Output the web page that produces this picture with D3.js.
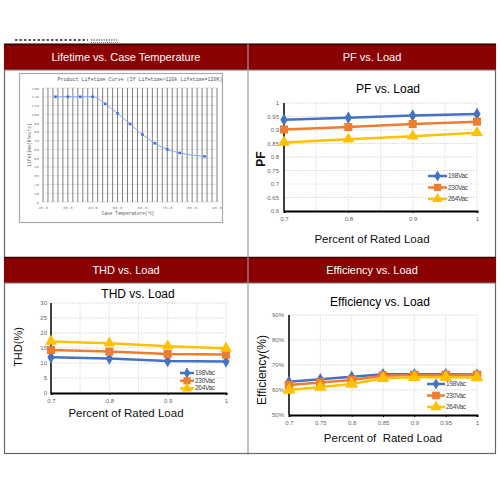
<!DOCTYPE html>
<html>
<head>
<meta charset="utf-8">
<script src="https://cdn.jsdelivr.net/npm/d3@7"></script>
<style>
body { margin: 0; background: #fff; }
text { font-family: "Liberation Sans", Arial, sans-serif; }
</style>
</head>
<body>
<svg id="main_svg" width="500" height="500"></svg>
<script>
// ---- data ----
const headers = ["Lifetime vs. Case Temperature", "PF vs. Load", "THD vs. Load", "Efficiency vs. Load"]
const seriesNames = ["198Vac", "230Vac", "264Vac"]
const seriesColors = ["#4472C4", "#ED7D31", "#FFC000"]

const lifeTemps = [25, 30, 35, 40, 45, 50, 55, 60, 65, 70, 75, 85]
const lifeHours = [120, 120, 120, 120, 112, 101, 89, 77, 67, 60, 56, 52]
const lifeXTicks = [20, 30, 40, 50, 60, 70, 80, 90]
const lifeYTicks = [0, 10, 20, 30, 40, 50, 60, 70, 80, 90, 100, 110, 120, 130]

const loads = [0.7, 0.8, 0.9, 1.0]
const loadTicks = [0.7, 0.8, 0.9, 1]
const pf198 = [0.938, 0.945, 0.954, 0.959]
const pf230 = [0.902, 0.911, 0.922, 0.931]
const pf264 = [0.854, 0.866, 0.877, 0.890]
const pfTicks = [0.6, 0.65, 0.7, 0.75, 0.8, 0.85, 0.9, 0.95, 1]

const thd198 = [11.9, 11.5, 10.7, 10.5]
const thd230 = [14.3, 13.8, 13.0, 12.8]
const thd264 = [17.2, 16.6, 15.6, 14.9]
const thdTicks = [0, 5, 10, 15, 20, 25, 30]

const effLoads = [0.7, 0.75, 0.8, 0.85, 0.9, 0.95, 1.0]
const eff198 = [63.3, 64.3, 65.3, 66.3, 66.3, 66.3, 66.2]
const eff230 = [62.0, 63.0, 64.0, 65.7, 66.0, 66.0, 66.0]
const eff264 = [60.0, 61.2, 62.4, 64.7, 65.1, 65.1, 65.0]
const effTicks = [50, 60, 70, 80, 90]
const effXTicks = [0.7, 0.75, 0.8, 0.85, 0.9, 0.95, 1]

const svg = d3.select("#main_svg")

// cut-off text line above the table
svg.append("line").attr("x1", 15).attr("x2", 88).attr("y1", 40).attr("y2", 40)
    .attr("stroke", "#222").attr("stroke-width", 1.5).attr("stroke-dasharray", "2.5,2")
svg.append("line").attr("x1", 91).attr("x2", 118).attr("y1", 40).attr("y2", 40)
    .attr("stroke", "#444").attr("stroke-width", 1.2).attr("stroke-dasharray", "1.5,1")
svg.append("line").attr("x1", 91).attr("x2", 118).attr("y1", 42.5).attr("y2", 42.5)
    .attr("stroke", "#e04040").attr("stroke-width", 0.8).attr("stroke-dasharray", "1,1")

// ---- table frame ----
function header(x, y, w, h, label) {
    svg.append("rect").attr("x", x).attr("y", y).attr("width", w).attr("height", h)
        .attr("fill", "#8B0000")
    svg.append("line").attr("x1", x).attr("x2", x + w).attr("y1", y + 0.5).attr("y2", y + 0.5)
        .attr("stroke", "#3a0000").attr("stroke-width", 1.5)
    svg.append("line").attr("x1", x).attr("x2", x + w).attr("y1", y + h).attr("y2", y + h)
        .attr("stroke", "#777").attr("stroke-width", 1)
    svg.append("text").attr("x", x + w / 2).attr("y", y + h / 2 + 4)
        .attr("text-anchor", "middle").attr("fill", "#fff").attr("font-size", 11)
        .text(label)
}
svg.append("rect").attr("x", 4.5).attr("y", 44).attr("width", 491).attr("height", 409.5)
    .attr("fill", "#fff").attr("stroke", "#666").attr("stroke-width", 1.2)
header(4, 44, 244, 26, headers[0])
header(248, 44, 248, 26, headers[1])
header(4, 257, 244, 26, headers[2])
header(248, 257, 248, 26, headers[3])
svg.append("line").attr("x1", 248).attr("x2", 248).attr("y1", 44).attr("y2", 453)
    .attr("stroke", "#999").attr("stroke-width", 1.2)

// ---- lifetime chart ----
svg.append("rect").attr("x", 19.5).attr("y", 73.5).attr("width", 203).attr("height", 149)
    .attr("fill", "#fff").attr("stroke", "#aaa").attr("stroke-width", 1.2)
const lx = d3.scaleLinear().domain([20, 90]).range([43, 217])
const ly = d3.scaleLinear().domain([0, 130]).range([202, 88])
const lg = svg.append("g")
lg.selectAll(".hg").data(lifeYTicks).join("line")
    .attr("x1", lx(20)).attr("x2", lx(90)).attr("y1", d => ly(d)).attr("y2", d => ly(d))
    .attr("stroke", "#ccc").attr("stroke-width", 0.6)
lg.selectAll(".vg").data(d3.range(20, 91, 2)).join("line")
    .attr("x1", d => lx(d)).attr("x2", d => lx(d)).attr("y1", ly(0)).attr("y2", ly(130))
    .attr("stroke", "#808080").attr("stroke-width", 1)
lg.selectAll(".yt").data(lifeYTicks).join("text")
    .attr("x", lx(20) - 4).attr("y", d => ly(d) + 1.5).attr("text-anchor", "end")
    .attr("font-size", 4.2).attr("fill", "#888").style("font-family", "Liberation Mono")
    .text(d => d)
lg.selectAll(".xt").data(lifeXTicks).join("text")
    .attr("x", d => lx(d)).attr("y", ly(0) + 7).attr("text-anchor", "middle")
    .attr("font-size", 4.2).attr("fill", "#888").style("font-family", "Liberation Mono")
    .text(d => d.toFixed(1))
const lifeLine = d3.line().x((d, i) => lx(lifeTemps[i])).y(d => ly(d)).curve(d3.curveMonotoneX)
lg.append("path").attr("d", lifeLine(lifeHours)).attr("fill", "none")
    .attr("stroke", "#7fa7ee").attr("stroke-width", 1)
lg.selectAll(".lp").data(lifeHours).join("rect")
    .attr("x", (d, i) => lx(lifeTemps[i]) - 1.3).attr("y", d => ly(d) - 1.3)
    .attr("width", 2.6).attr("height", 2.6).attr("fill", "#3f6fe0")
lg.append("text").attr("x", 140).attr("y", 81).attr("text-anchor", "middle")
    .attr("font-size", 5).attr("fill", "#555").style("font-family", "Liberation Mono")
    .text("Product Lifetime Curve (If Lifetime>120k Lifetime=120K)")
lg.append("text").attr("transform", "translate(31,145) rotate(-90)").attr("text-anchor", "middle")
    .attr("font-size", 4.5).attr("fill", "#666").style("font-family", "Liberation Mono")
    .text("Lifetime(Khours)")
lg.append("text").attr("x", 128).attr("y", 215).attr("text-anchor", "middle")
    .attr("font-size", 4.5).attr("fill", "#555").style("font-family", "Liberation Mono")
    .text("Case Temperature(℃)")

// ---- generic excel-style line chart ----
const symbols = [d3.symbolDiamond, d3.symbolSquare, d3.symbolTriangle]
function line_chart(c) {
    const g = svg.append("g")
    const x = d3.scaleLinear().domain(c.xDomain).range([c.left, c.right])
    const y = d3.scaleLinear().domain(c.yDomain).range([c.bottom, c.top])
    g.selectAll(".hg").data(c.yTicks).join("line")
        .attr("x1", c.left).attr("x2", c.right).attr("y1", d => y(d)).attr("y2", d => y(d))
        .attr("stroke", "#d0d0d0").attr("stroke-width", 0.7).attr("stroke-dasharray", "2,1")
    g.selectAll(".vg").data(c.xGrid).join("line")
        .attr("x1", d => x(d)).attr("x2", d => x(d)).attr("y1", c.top).attr("y2", c.bottom)
        .attr("stroke", "#d8d8d8").attr("stroke-width", 0.7).attr("stroke-dasharray", "2,1")
    g.append("line").attr("x1", c.left).attr("x2", c.left).attr("y1", c.top).attr("y2", c.bottom)
        .attr("stroke", "#000").attr("stroke-width", 1.5)
    const xAxis = d3.axisBottom(x).tickValues(c.xTicks).tickSize(2).tickFormat(c.xFmt)
    const ax = g.append("g").attr("transform", `translate(0,${c.bottom})`).call(xAxis)
    ax.select(".domain").attr("stroke", "#000").attr("stroke-width", 2)
    ax.selectAll("text").attr("font-size", 6).attr("fill", "#666").attr("dy", c.xLabelDy)
    const yAxis = d3.axisLeft(y).tickValues(c.yTicks).tickSize(0).tickFormat(c.yFmt)
    const ay = g.append("g").attr("transform", `translate(${c.left},0)`).call(yAxis)
    ay.select(".domain").remove()
    ay.selectAll("text").attr("font-size", 6).attr("fill", "#666").attr("x", -c.yLabelGap)

    c.series.forEach((vals, s) => {
        const line = d3.line().x((d, i) => x(c.xs[i])).y(d => y(d))
        g.append("path").attr("d", line(vals)).attr("fill", "none")
            .attr("stroke", seriesColors[s]).attr("stroke-width", 2.5)
        g.selectAll(".m" + s).data(vals).join("path")
            .attr("transform", (d, i) => `translate(${x(c.xs[i])},${y(d)})`)
            .attr("d", d3.symbol().type(symbols[s]).size(c.markSize[s]))
            .attr("fill", seriesColors[s])
    })
    // legend
    seriesNames.forEach((n, s) => {
        const ly0 = c.legend.y + s * c.legend.dy
        g.append("line").attr("x1", c.legend.x).attr("x2", c.legend.x + c.legend.w)
            .attr("y1", ly0).attr("y2", ly0).attr("stroke", seriesColors[s]).attr("stroke-width", 2.5)
        g.append("path").attr("transform", `translate(${c.legend.x + c.legend.w / 2},${ly0})`)
            .attr("d", d3.symbol().type(symbols[s]).size(c.markSize[s] * 0.8)).attr("fill", seriesColors[s])
        g.append("text").attr("x", c.legend.x + c.legend.w + 1).attr("y", ly0 + 2)
            .attr("font-size", 6.5).attr("fill", "#444").attr("letter-spacing", -0.3).text(n)
    })
    g.append("text").attr("x", c.title.x).attr("y", c.title.y).attr("text-anchor", "middle")
        .attr("font-size", 12).attr("fill", "#000").text(c.title.text)
    g.append("text").attr("transform", `translate(${c.ylab.x},${c.ylab.y}) rotate(-90)`)
        .attr("text-anchor", "middle").attr("font-size", c.ylab.size)
        .attr("font-weight", c.ylab.bold ? "bold" : "normal").attr("fill", "#111").text(c.ylab.text)
    g.append("text").attr("x", c.xlab.x).attr("y", c.xlab.y).attr("text-anchor", "middle")
        .attr("font-size", 11.5).attr("fill", "#111").attr("xml:space", "preserve").text(c.xlab.text)
}

line_chart({
    left: 284, right: 477, top: 103, bottom: 211,
    xDomain: [0.7, 1], yDomain: [0.6, 1],
    xs: loads, series: [pf198, pf230, pf264],
    xTicks: loadTicks, xGrid: effXTicks, yTicks: pfTicks,
    xFmt: d => String(+d.toFixed(2)), yFmt: d => String(+d.toFixed(2)),
    xLabelDy: "0.9em", yLabelGap: 5,
    markSize: [45, 65, 60],
    legend: { x: 428, y: 176, dy: 11.5, w: 19 },
    title: { x: 388, y: 93, text: "PF vs. Load" },
    ylab: { x: 265, y: 159, text: "PF", size: 12, bold: true },
    xlab: { x: 372, y: 243, text: "Percent of Rated Load" }
})

line_chart({
    left: 51, right: 226, top: 303, bottom: 393,
    xDomain: [0.7, 1], yDomain: [0, 30],
    xs: loads, series: [thd198, thd230, thd264],
    xTicks: loadTicks, xGrid: [0.75, 0.8, 0.85, 0.9, 0.95, 1], yTicks: thdTicks,
    xFmt: d => String(+d.toFixed(2)), yFmt: d => d,
    xLabelDy: "0.9em", yLabelGap: 4,
    markSize: [45, 65, 60],
    legend: { x: 180, y: 373, dy: 7.7, w: 14 },
    title: { x: 138, y: 298, text: "THD vs. Load" },
    ylab: { x: 22, y: 347, text: "THD(%)", size: 11, bold: false },
    xlab: { x: 126, y: 417, text: "Percent of Rated Load" }
})

line_chart({
    left: 289, right: 477, top: 315, bottom: 415,
    xDomain: [0.7, 1], yDomain: [50, 90],
    xs: effLoads, series: [eff198, eff230, eff264],
    xTicks: effXTicks, xGrid: effXTicks, yTicks: effTicks,
    xFmt: d => String(+d.toFixed(2)), yFmt: d => d + "%",
    xLabelDy: "0.9em", yLabelGap: 5,
    markSize: [45, 75, 70],
    legend: { x: 427, y: 384, dy: 11.5, w: 18 },
    title: { x: 380, y: 306, text: "Efficiency vs. Load" },
    ylab: { x: 266, y: 370, text: "Efficiency(%)", size: 12, bold: false },
    xlab: { x: 383, y: 442, text: "Percent of  Rated Load" }
})
</script>
</body>
</html>
